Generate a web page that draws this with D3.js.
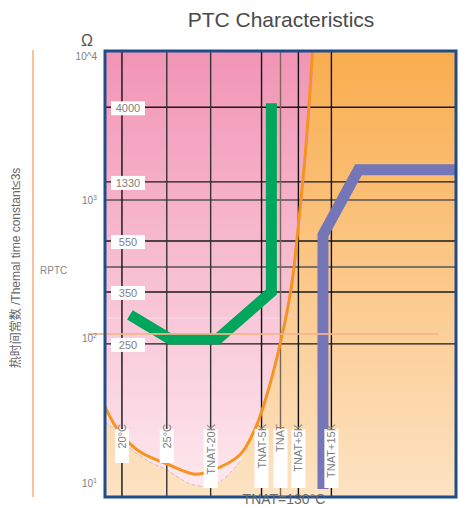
<!DOCTYPE html>
<html><head><meta charset="utf-8">
<script src="https://cdn.jsdelivr.net/npm/d3@7"></script>
<style>
html,body{margin:0;padding:0;background:#fff;}
svg{display:block;font-family:"Liberation Sans",Arial,"Noto Sans CJK SC",sans-serif;}
</style></head>
<body><svg id="c" width="459" height="506"></svg>
<script>
// ---- data ----
const tempPositions = [4.83, 17.6, 30.1, 44.6, 50, 55.1, 64.5];
const tempLabels = ["20°C", "25°C", "TNAT-20K", "TNAT-5K", "TNAT", "TNAT+5K", "TNAT+15K"];
const resLines = [4230, 1325, 1000, 494, 316, 206, 86];
const resLabels = ["4000", "1330", "", "550", "", "350", "250"];
const decadeTicks = [10, 100, 1000, 10000];
const decadeBase = ["10", "10", "10", "10^4"];
const decadeExp = ["1", "2", "3", ""];
const ptcCurveX = [0, 4.26, 9.94, 17.6, 25.6, 30.1, 38.4, 42.6, 45.7, 49.7, 53.1, 55.1, 57.4, 59.1];
const ptcCurveR = [32.9, 22.1, 16.6, 13.8, 11.8, 12.4, 15.8, 23.1, 36.6, 82, 224, 650, 2560, 10000];
const zoneX = [0, 2.84, 7.1, 12.8, 17.6, 24.1, 30.1, 34.1, 38.4, 43.2, 46.3, 50.3, 53.7, 55.7, 58.0, 59.7];
const zoneR = [26.1, 23.1, 17.6, 14.2, 12.6, 10.2, 9.85, 11.1, 14.2, 24.9, 36.6, 82, 224, 650, 2560, 10000];
const greenX = [7.1, 18.5, 32.1, 47.4, 47.4];
const greenR = [139, 92.7, 92.7, 206, 4500];
const purpleX = [62.1, 62.1, 72.2, 100];
const purpleR = [9.4, 550, 1600, 1600];
const refLevel = 100;

// ---- layout ----
const svg = d3.select("#c");
const L = 105, R = 456, T = 51, B = 497;
const x = d3.scaleLinear().domain([0, 100]).range([L, R]);
const y = d3.scaleLog().domain([10, 100, 1000, 10000]).range([485, 334, 200, 52]);
const tickNudge = [-2, 4, 0, 4];

const defs = svg.append("defs");
const g1 = defs.append("linearGradient").attr("id", "gOr").attr("x1", 0).attr("y1", 0).attr("x2", 0).attr("y2", 1);
g1.append("stop").attr("offset", "0%").attr("stop-color", "#f9ad4e");
g1.append("stop").attr("offset", "100%").attr("stop-color", "#fde3c4");
const g2 = defs.append("linearGradient").attr("id", "gPk").attr("gradientUnits", "userSpaceOnUse")
  .attr("x1", 0).attr("y1", T).attr("x2", 0).attr("y2", 487);
g2.append("stop").attr("offset", "0%").attr("stop-color", "#f294b5");
g2.append("stop").attr("offset", "100%").attr("stop-color", "#fde8ee");
defs.append("clipPath").attr("id", "clip").append("rect").attr("x", L).attr("y", T).attr("width", R - L).attr("height", B - T);

// title
svg.append("text").attr("x", 281).attr("y", 27).attr("text-anchor", "middle")
  .attr("font-size", 21).attr("fill", "#4a4a4a").text("PTC Characteristics");
svg.append("text").attr("x", 87).attr("y", 46).attr("text-anchor", "middle")
  .attr("font-size", 16).attr("fill", "#555").text("Ω");

// left decorative line & texts
svg.append("line").attr("x1", 33).attr("x2", 33).attr("y1", 50).attr("y2", 497)
  .attr("stroke", "#f6c49c").attr("stroke-width", 2);
svg.append("text").attr("transform", "translate(20,268) rotate(-90)").attr("text-anchor", "middle")
  .attr("font-size", 12).attr("fill", "#666").text("热时间常数 /Themal time constant≤3s");
svg.append("text").attr("x", 40).attr("y", 274).attr("font-size", 10).attr("fill", "#888").text("RPTC");

const plot = svg.append("g").attr("clip-path", "url(#clip)");
plot.append("rect").attr("x", L).attr("y", T).attr("width", R - L).attr("height", B - T).attr("fill", "url(#gOr)");

const curve = d3.curveCatmullRom.alpha(0.5);
const zonePts = zoneX.map((v, i) => [x(v), y(zoneR[i])]);
const zoneLine = d3.line().curve(curve);
plot.append("path")
  .attr("d", zoneLine(zonePts) + `L${L},${T - 2}L${L},${zonePts[0][1]}Z`)
  .attr("fill", "url(#gPk)");
// faint light streak in pink zone
plot.append("line").attr("x1", L).attr("x2", x(50)).attr("y1", 318).attr("y2", 318)
  .attr("stroke", "#fff").attr("stroke-width", 1).attr("opacity", 0.35);
// grey edge on lower part of pink zone
plot.append("path").attr("d", zoneLine(zonePts.slice(0, 9)))
  .attr("fill", "none").attr("stroke", "#b9a9ad").attr("stroke-width", 0.8).attr("stroke-dasharray", "4,2").attr("opacity", 0.8);

// grid lines
plot.selectAll(".hg").data(resLines).join("line").attr("class", "hg")
  .attr("x1", L).attr("x2", R).attr("y1", d => y(d)).attr("y2", d => y(d))
  .attr("stroke", (d, i) => resLabels[i] ? "#1a1a1a" : "#555").attr("stroke-width", 1.4);
plot.selectAll(".vg").data(tempPositions).join("line").attr("class", "vg")
  .attr("x1", d => x(d)).attr("x2", d => x(d)).attr("y1", T).attr("y2", B)
  .attr("stroke", (d, i) => tempLabels[i] === "TNAT" ? "#7a675c" : (i === 1 || i === 2 ? "#333" : "#111"))
  .attr("stroke-width", 1.4);

// 10^2 reference line
svg.append("line").attr("x1", 88).attr("x2", 439).attr("y1", y(refLevel)).attr("y2", y(refLevel))
  .attr("stroke", "#f4b68c").attr("stroke-width", 2).attr("opacity", 0.85);

// PTC curve
plot.append("path")
  .attr("d", d3.line().curve(curve)(ptcCurveX.map((v, i) => [x(v), y(ptcCurveR[i])])))
  .attr("fill", "none").attr("stroke", "#f7941d").attr("stroke-width", 3);

// green trace
plot.append("path")
  .attr("d", d3.line()(greenX.map((v, i) => [x(v), y(greenR[i])])))
  .attr("fill", "none").attr("stroke", "#00a65b").attr("stroke-width", 11)
  .attr("stroke-linejoin", "miter").attr("stroke-linecap", "butt");

// purple trace
plot.append("path")
  .attr("d", d3.line()(purpleX.map((v, i) => [x(v), y(purpleR[i])])))
  .attr("fill", "none").attr("stroke", "#7476b8").attr("stroke-width", 11)
  .attr("stroke-linejoin", "miter").attr("stroke-linecap", "butt");

// resistance labels
const rl = svg.selectAll(".rl").data(resLines.map((v, i) => ({ v, t: resLabels[i] })).filter(d => d.t)).join("g");
rl.append("rect").attr("x", 111).attr("y", d => y(d.v) - 6).attr("width", 34).attr("height", 14).attr("fill", "#fff");
rl.append("text").attr("x", 128).attr("y", d => y(d.v) + 1).attr("dy", "0.35em").attr("text-anchor", "middle")
  .attr("font-size", 11).attr("fill", "#808080").text(d => d.t);

// temperature labels
const tl = svg.selectAll(".tl").data(tempPositions.map((v, i) => ({ v, t: tempLabels[i] }))).join("g");
tl.append("rect").attr("x", d => x(d.v) - 7).attr("y", 429).attr("width", 14)
  .attr("height", d => d.t.startsWith("TNAT") ? 59 : 34).attr("fill", "#fff");
tl.append("text").attr("transform", d => `translate(${x(d.v)},424) rotate(-90)`).attr("dy", "0.36em")
  .attr("text-anchor", "end").attr("font-size", 11).attr("fill", "#808080").text(d => d.t);

// y axis decade labels
const ax = svg.append("g").attr("transform", `translate(${L},0)`)
  .call(d3.axisLeft(y).tickValues(decadeTicks).tickSize(0).tickPadding(8).tickFormat(() => ""));
ax.select(".domain").remove();
ax.selectAll(".tick text").each(function (d, i) {
  const t = d3.select(this).text(null)
    .attr("font-size", 10).attr("fill", "#808080").attr("dy", null)
    .attr("y", tickNudge[i] + 3.5)
    .attr("font-family", "'Liberation Sans',Arial,sans-serif");
  t.append("tspan").text(decadeBase[i]);
  if (decadeExp[i]) t.append("tspan").attr("font-size", 7).attr("dy", -4).text(decadeExp[i]);
});

// frame
svg.append("rect").attr("x", L).attr("y", T).attr("width", R - L).attr("height", B - T)
  .attr("fill", "none").attr("stroke", "#1f4c8a").attr("stroke-width", 3);

svg.append("text").attr("x", 284).attr("y", 504).attr("text-anchor", "middle")
  .attr("font-size", 14).attr("fill", "#6a6a6a").text("TNAT=130°C");
</script></body></html>
